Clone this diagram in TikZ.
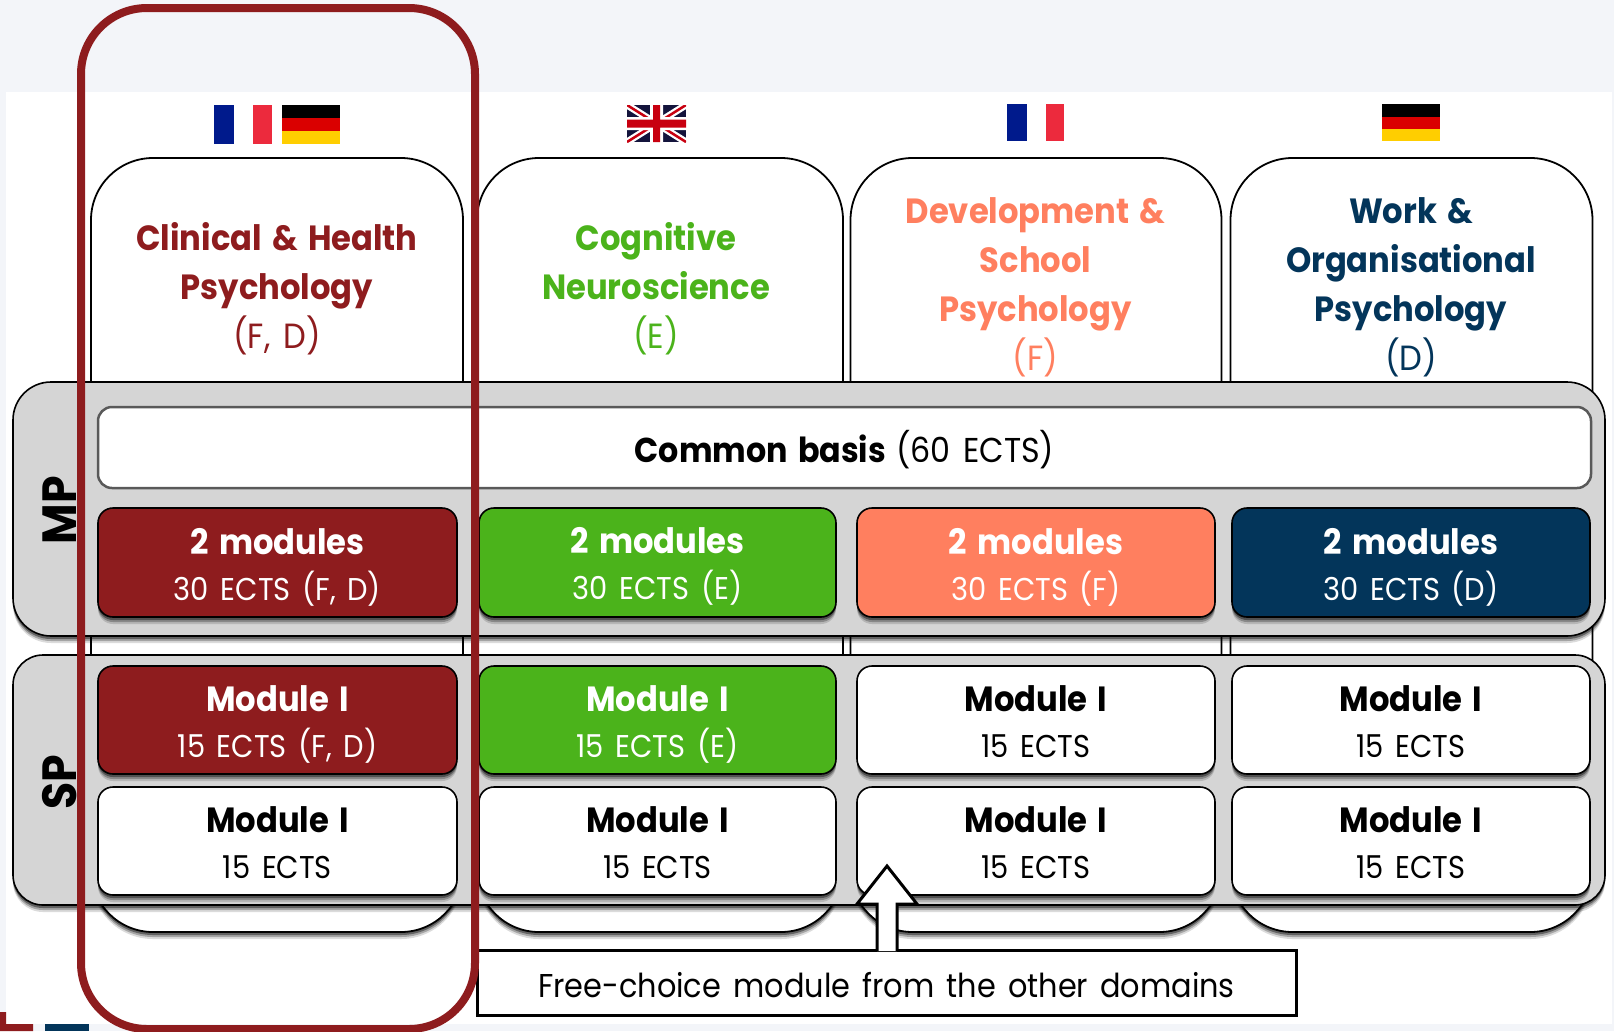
\documentclass[tikz,border=0pt]{standalone}
\usepackage{fontspec}
\setmainfont[FakeStretch=0.92,WordSpace=1.5]{Poppins}
\usetikzlibrary{shadows,calc}
\definecolor{pagebg}{HTML}{F3F5F9}
\definecolor{redd}{HTML}{8E1C1E}
\definecolor{greend}{HTML}{4BB31B}
\definecolor{oranged}{HTML}{FF7F5F}
\definecolor{navyd}{HTML}{03355A}
\definecolor{panelgrey}{HTML}{D5D5D5}
\definecolor{flagblue}{HTML}{001A8C}
\definecolor{flagred}{HTML}{EC2A3D}
\definecolor{flagdred}{HTML}{DA0000}
\definecolor{flaggold}{HTML}{FFCE00}
\definecolor{ukblue}{HTML}{14143C}
\definecolor{ukred}{HTML}{C80010}
\tikzset{
  x=1pt,y=-1pt,
  every node/.style={outer sep=0pt},
  softshadow/.style={
    general shadow={shadow xshift=0pt,shadow yshift=-7pt,fill=black,opacity=.14},
    general shadow={shadow xshift=0pt,shadow yshift=-5pt,fill=black,opacity=.25},
    general shadow={shadow xshift=0pt,shadow yshift=-3pt,fill=black,opacity=.4}},
  domainbox/.style={draw=black,line width=1.8pt,fill=white,rounded corners=62pt,softshadow,inner sep=0pt,minimum height=774pt,anchor=north},
  panel/.style={draw=black,line width=1.6pt,fill=panelgrey,softshadow,inner sep=0pt,minimum width=1592pt,anchor=north west},
  modbox/.style={draw=black,line width=1.6pt,rounded corners=15pt,softshadow,inner sep=0pt,minimum width=359pt,minimum height=108pt,align=center,anchor=north,font=\fontsize{31.5}{46}\selectfont},
  whitemod/.style={modbox,fill=white,text=black},
  title/.style={font=\fontsize{35}{49}\selectfont,align=center,inner sep=0pt},
}
\newcommand{\modt}[3][43.5]{{\fontsize{35}{46}\selectfont\bfseries\rule{0pt}{#1pt}#2}\\\strut #3}
\begin{document}
\begin{tikzpicture}
\useasboundingbox (0,0) rectangle (1614,1031);
\fill[pagebg] (0,0) rectangle (1614,1031);
\fill[white] (6,92) rectangle (1612,1024);
\fill[redd] (0,1012) rectangle (6,1031) (0,1024) rectangle (33,1031);
\fill[navyd] (45,1024) rectangle (89,1031);
% flags
\fill[flagblue] (214,105) rectangle (234,144);
\fill[flagred] (253,105) rectangle (272,144);
\fill[black] (282,105) rectangle (340,118);
\fill[flagdred] (282,118) rectangle (340,131);
\fill[flaggold] (282,131) rectangle (340,144);
\fill[flagblue] (1007,104) rectangle (1027,141);
\fill[flagred] (1046,104) rectangle (1064,141);
\fill[black] (1382,104) rectangle (1440,116.5);
\fill[flagdred] (1382,116.5) rectangle (1440,129);
\fill[flaggold] (1382,129) rectangle (1440,141);
\begin{scope}
\clip (627,105) rectangle (686,142);
\fill[ukblue] (627,105) rectangle (686,142);
\draw[white,line width=7pt] (627,105) -- (686,142) (627,142) -- (686,105);
\draw[ukred,line width=2.5pt] (627,105) -- (686,142) (627,142) -- (686,105);
\fill[white] (650,105) rectangle (663,142) (627,117) rectangle (686,130);
\fill[ukred] (653,105) rectangle (660,142) (627,119.5) rectangle (686,127.5);
\end{scope}
% domain boxes
\node[domainbox,minimum width=372pt] (d1) at (277,158) {};
\node[domainbox,minimum width=366pt] (d2) at (660,158) {};
\node[domainbox,minimum width=371pt] (d3) at (1036,158) {};
\node[domainbox,minimum width=362pt] (d4) at (1411.5,158) {};
\node[title,text=redd] (t1) at (277,290) {\bfseries\strut Clinical \& Health\\\bfseries\strut Psychology\\\strut(F, D)};
\node[title,text=greend] (t2) at (656,290) {\bfseries\strut Cognitive\\\bfseries\strut Neuroscience\\\strut(E)};
\node[title,text=oranged] (t3) at (1035.5,287) {\bfseries\strut Development \&\\\bfseries\strut School\\\bfseries\strut Psychology\\\strut(F)};
\node[title,text=navyd] (t4) at (1411,287) {\bfseries\strut Work \&\\\bfseries\strut Organisational\\\bfseries\strut Psychology\\\strut(D)};
% panels
\node[panel,rounded corners=38pt,minimum height=254pt] (mp) at (13,382) {};
\node[panel,rounded corners=30pt,minimum height=250pt] (sp) at (13,655) {};
\node[rotate=90,inner sep=0pt,font=\fontsize{48}{48}\selectfont\bfseries] (mpl) at (60,510) {MP};
\node[rotate=90,inner sep=0pt,font=\fontsize{48}{48}\selectfont\bfseries] (spl) at (60,782) {SP};
\node[draw=black!65,line width=2.5pt,fill=white,rounded corners=14pt,inner sep=0pt,minimum width=1493pt,minimum height=81pt,text height=38pt,text depth=9pt,font=\fontsize{34.5}{40}\selectfont] (common) at (844.5,447.5) {\bfseries Common basis \mdseries(60 ECTS)};
% 2 modules
\node[modbox,fill=redd,text=white,minimum height=109pt] (m1) at (277.5,508) {\modt{2 modules}{30 ECTS (F, D)}};
\node[modbox,fill=greend,text=white,minimum width=357pt,minimum height=109pt] (m2) at (657.5,508) {\modt[41]{2 modules}{30 ECTS (E)}};
\node[modbox,fill=oranged,text=white,minimum width=358pt,minimum height=109pt] (m3) at (1036,508) {\modt{2 modules}{30 ECTS (F)}};
\node[modbox,fill=navyd,text=white,minimum width=358pt,minimum height=109pt] (m4) at (1411,508) {\modt{2 modules}{30 ECTS (D)}};
% module rows
\node[modbox,fill=redd,text=white] (a1) at (277.5,666) {\modt{Module I}{15 ECTS (F, D)}};
\node[modbox,fill=greend,text=white,minimum width=357pt] (a2) at (657.5,666) {\modt{Module I}{15 ECTS (E)}};
\node[whitemod,minimum width=358pt] (a3) at (1036,666) {\modt{Module I}{15 ECTS}};
\node[whitemod,minimum width=358pt] (a4) at (1411,666) {\modt{Module I}{15 ECTS}};
\node[whitemod] (b1) at (277.5,787) {\modt{Module I}{15 ECTS}};
\node[whitemod,minimum width=357pt] (b2) at (657.5,787) {\modt{Module I}{15 ECTS}};
\node[whitemod,minimum width=358pt] (b3) at (1036,787) {\modt{Module I}{15 ECTS}};
\node[whitemod,minimum width=358pt] (b4) at (1411,787) {\modt{Module I}{15 ECTS}};
% free choice
\node[draw=black,line width=3pt,fill=white,inner sep=0pt,minimum width=819pt,minimum height=65pt,text height=39pt,text depth=9pt,font=\fontsize{33}{36}\selectfont] (free) at (886.5,982.5) {Free-choice module from the other domains};
\coordinate (al) at (877,951);
\coordinate (ar) at (897,951);
\fill[white] (al) -- (877,904) -- (857,904) -- (887,866) -- (917,904) -- (897,904) -- (ar) -- cycle;
\draw[line width=3pt,line join=miter] (al) -- (877,904) -- (857,904) -- (887,866) -- (917,904) -- (897,904) -- (ar);
% red outline
\node[draw=redd,line width=8pt,rounded corners=66pt,inner sep=0pt,minimum width=394pt,minimum height=1021pt,anchor=north west] (focus) at (81,8) {};
\end{tikzpicture}
\end{document}
